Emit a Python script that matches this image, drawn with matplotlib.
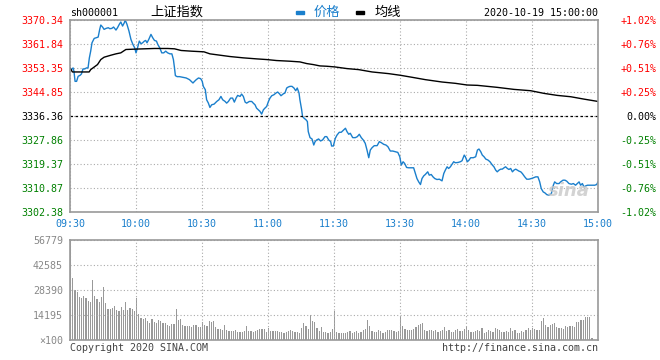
import numpy as np
import matplotlib
matplotlib.use("Agg")
import matplotlib.pyplot as plt
from matplotlib.patches import Rectangle

plt.rcParams['font.family'] = ['DejaVu Sans Mono', 'Noto Sans CJK SC']

# price ticks (left) and percent ticks (right)
price_ticks = [3302.38, 3310.87, 3319.37, 3327.86, 3336.36, 3344.85, 3353.35, 3361.84, 3370.34]
pct_labels = ['-1.02%', '-0.76%', '-0.51%', '-0.25%', '0.00%', '+0.25%', '+0.51%', '+0.76%', '+1.02%']
prev_close = 3336.36

time_labels = ['09:30', '10:00', '10:30', '11:00', '11:30', '13:30', '14:00', '14:30', '15:00']
time_ticks = [0, 30, 60, 90, 120, 150, 180, 210, 240]

# price line, minutes since 09:30 (trading minutes)
price_min = [0, 0.6, 1.4, 1.8, 2.3, 3, 3.7, 4.6, 5.2, 5.9, 6.7, 7.5, 8.2, 8.8, 9.4, 10, 11, 11.9,
             12.8, 13.5, 14, 14.8, 15.5, 16.4, 17.4, 18.1, 19, 19.8, 20.9, 21.6, 22.4, 23.1, 23.9,
             24.7, 25.1, 25.9, 26.8, 27.7, 28.6, 29.4, 30, 30.7, 31.5, 32.3, 33, 33.8, 34.4, 35,
             35.8, 36.8, 37.6, 38.4, 39.3, 39.9, 40.8, 41.7, 42.6, 43.5, 44.4, 45.4, 46.3, 47,
             47.5, 47.9, 48.7, 49.8, 51.3, 52.8, 54.3, 55.9, 56.6, 57.4, 58.4, 59.4, 60.1, 60.6,
             61.5, 62.1, 62.9, 63.6, 64.4, 65.5, 66.7, 67.7, 68.6, 69.4, 70.5, 71.2, 72, 73,
             73.9, 74.7, 75.5, 76.2, 77.3, 78, 78.8, 79.6, 80.3, 81.5, 82.6, 83.3, 84.1, 84.8,
             85.6, 86.4, 87.1, 87.9, 88.6, 89.4, 90.2, 90.9, 91.7, 92.7, 93.6, 94.4, 95.2, 95.9,
             97, 97.7, 98.5, 99.2, 100, 100.9, 101.8, 102.6, 103.3, 104.1, 104.5, 105.3, 105.7,
             106.4, 107.3, 107.9, 108.3, 109.1, 110, 110.8, 111.4, 112.1, 113, 113.9, 114.8,
             115.9, 116.7, 117.6, 118.5, 118.9, 119.7,
             120.6, 121.4, 122.4, 123.3, 124.4, 125.2, 125.9, 126.7, 127.4, 128.5, 129.7, 130.6,
             131.5, 132.4, 133.3, 134.2, 135, 135.8, 136.5, 137.3, 138.3, 139.6, 140.6, 141.5,
             142.6, 143.6, 144.5, 145.6, 146.7, 147.9, 149, 149.9, 150.6, 151.4, 152.1, 153,
             153.9, 155.2, 156.2, 157, 157.7, 158.5, 159.3, 160, 160.8, 161.5, 162.6, 163.3,
             164.2, 165, 165.8, 166.8, 167.9, 169.1, 169.9, 170.6, 171.4, 172.1, 172.9, 173.6,
             174.4, 175.2, 176.4, 177.4, 178.2, 179.2, 179.7, 180.6, 181.4, 182.1, 183.3, 184.4,
             185.2, 185.9, 186.7, 187.4, 188.2, 189, 190, 190.9, 192, 192.7, 193.5, 194.2, 195,
             195.8, 196.5, 197.3, 198, 198.8, 199.5, 200.3, 201.1, 201.8, 202.6, 203.3, 204.1,
             204.9, 205.6, 206.7, 207.6, 208.6, 209.7, 210.6, 211.7, 212.7, 213.5, 214.2, 215.1,
             215.9, 216.7, 217.7, 218.8, 219.7, 220.3, 221.2, 222.3, 223, 224.1, 225, 225.8,
             226.8, 227.9, 228.8, 229.8, 230.6, 231.4, 232.1, 232.9, 233.6, 234.4, 235.2, 236.4,
             237.4, 238.5, 239.4, 240]
price = [3353.02, 3352.78, 3353.38, 3352.19, 3348.63, 3348.63, 3350.41, 3350.77, 3351.24, 3353.02,
         3353.02, 3353.38, 3353.38, 3356.94, 3359.31, 3362.27, 3363.82, 3364.05, 3364.29, 3367.02,
         3368.56, 3367.85, 3367.02, 3367.37, 3367.61, 3367.26, 3367.37, 3367.85, 3366.78, 3367.61,
         3368.80, 3369.63, 3368.20, 3369.39, 3370.34, 3368.80, 3366.43, 3363.46, 3361.68, 3360.49,
         3358.71, 3360.49, 3362.87, 3361.92, 3362.27, 3362.87, 3363.10, 3362.27, 3363.46, 3365.24,
         3364.05, 3363.10, 3362.87, 3361.68, 3360.49, 3358.71, 3358.71, 3359.31, 3358.71, 3358.36,
         3358.36, 3356.34, 3353.38, 3350.65, 3350.29, 3350.29, 3350.06, 3349.82, 3349.23, 3348.04,
         3348.63, 3349.23, 3349.82, 3349.58, 3348.63, 3346.85,
         3345.67, 3342.11, 3340.92, 3339.38, 3340.33, 3340.57, 3341.51, 3342.11, 3343.29, 3342.11,
         3341.51, 3340.92, 3341.51, 3342.70, 3342.70, 3341.28, 3342.70, 3343.65, 3343.29, 3344.12,
         3343.29, 3341.28, 3340.92, 3341.51, 3341.51, 3340.92, 3340.33, 3339.14, 3338.55, 3337.96,
         3337.01, 3338.55, 3339.14, 3339.74, 3341.51, 3342.70, 3343.53, 3343.89, 3344.48, 3344.84,
         3344.24, 3343.53, 3344.24, 3344.48, 3346.26, 3346.62, 3346.85, 3346.85, 3346.26, 3345.31,
         3346.26, 3344.48, 3342.11, 3338.55, 3336.18, 3335.58, 3334.99, 3334.40, 3330.84, 3328.70,
         3328.23, 3326.09, 3327.28, 3327.87, 3328.23, 3327.52, 3327.87, 3329.06, 3329.06, 3327.87,
         3327.28, 3325.74, 3325.74,
         3328.47, 3329.65, 3330.60, 3330.60, 3331.43, 3332.02, 3330.84, 3329.89, 3330.25, 3328.70,
         3328.70, 3329.06, 3329.89, 3328.70, 3327.87, 3326.69, 3324.31, 3321.59, 3324.31, 3325.14,
         3325.86, 3325.86, 3327.28, 3326.92, 3326.33, 3326.09, 3325.50, 3323.96, 3323.96, 3323.72,
         3323.48, 3321.94, 3318.98, 3320.16, 3319.57, 3318.15, 3318.03, 3318.03, 3318.03, 3316.01,
         3314.23, 3313.04, 3312.10, 3314.23, 3315.18, 3315.65, 3316.60, 3315.42, 3315.65, 3314.82,
         3314.23, 3313.88, 3313.99, 3313.40, 3316.01, 3317.20, 3318.38, 3317.79, 3318.38, 3319.21,
         3320.16, 3319.81, 3319.92, 3320.16, 3320.52, 3322.53, 3321.94, 3320.16, 3320.76, 3321.59,
         3321.59, 3321.94, 3324.31, 3324.67, 3323.72, 3322.53, 3321.94, 3321.11, 3320.76, 3320.16,
         3318.98, 3318.38, 3317.20, 3316.60, 3317.20, 3317.55, 3317.55, 3318.03, 3318.38, 3317.79,
         3317.43, 3317.79, 3316.60, 3317.20, 3317.55, 3317.20, 3316.84, 3316.60, 3316.01, 3314.82,
         3313.99, 3313.99, 3314.23, 3314.47, 3314.82, 3314.82, 3313.04, 3310.67, 3309.49, 3309.13,
         3308.54, 3308.30, 3308.89, 3311.86, 3313.04, 3312.45, 3312.45, 3313.04, 3313.64, 3313.64,
         3313.28, 3312.45, 3312.21, 3312.45, 3311.86, 3312.45, 3313.04, 3311.86, 3312.45, 3311.27,
         3311.62, 3311.86, 3311.86, 3311.86, 3311.86, 3312.10, 3313.04]

# average line
avg_min = [0, 1.1, 8.7, 9.4, 12.5, 14, 15.5, 18.6, 20.9, 23.1, 25.4, 29.2, 33.8, 38.4, 44.4,
           47.5, 50.5, 55.1, 60.9, 63.6, 68.2, 72.7, 78.8, 84.8, 89.4, 93.9, 100, 104.5, 107.6,
           110.6, 113.6, 116.7, 120.4, 125.9, 131.2, 137.3, 144.8, 150.2, 155.5, 161.5, 169.1,
           175.2, 180.5, 185.2, 194.2, 201.8, 209.4, 215.5, 221.5, 227.6, 233.6, 240]
avg = [3353.38, 3351.95, 3351.95, 3352.78, 3354.56, 3356.34, 3357.17, 3357.88, 3358.36, 3358.71,
       3359.90, 3360.02, 3360.14, 3360.26, 3360.26, 3360.14, 3359.55, 3359.31, 3359.07, 3358.36,
       3357.88, 3357.41, 3356.94, 3356.58, 3356.34, 3355.99, 3355.75, 3355.51, 3354.92, 3354.56,
       3354.09, 3353.97, 3353.73, 3353.14, 3352.78, 3351.95, 3351.36, 3350.77, 3350.06, 3349.23,
       3348.39, 3347.92, 3347.33, 3347.21, 3346.50, 3345.78, 3345.31, 3344.36, 3343.65, 3343.18,
       3342.34, 3341.51]

# volume (x100), one bar per minute
vol_ticks = [0, 14195, 28390, 42585, 56779]
vol_labels = ['\u00d7100', '14195', '28390', '42585', '56779']
vol_am = [56779,
          35013, 28390, 27253, 24415, 24036, 24982, 23847, 22143, 21576, 34067, 24982, 23468, 21576,
          24415, 30093, 21008, 17791, 17412, 18169, 19305, 17033, 16466, 18737, 17033, 21576, 17223,
          18169, 17412, 16466, 23847,
          14762, 12491, 11923, 12491, 10788, 9652, 11923, 10220, 9652, 11356, 10788, 9652, 9463,
          8517, 7949, 9084, 9084, 17601, 11356, 11923, 8517, 7949, 7949, 7949, 7381, 8517, 8517,
          7381, 7381, 10220,
          8517, 7949, 10788, 10220, 10788, 7381, 6246, 6246, 5678, 8517, 5678, 5110, 5110, 5110,
          5678, 4542, 4542, 4542, 5110, 7949, 5110, 5110, 4542, 5110, 5678, 6246, 6246, 6246, 4542,
          6813,
          5110, 5110, 5110, 5110, 4542, 4542, 3974, 4542, 5110, 5678, 5110, 4542, 4542, 3974, 6813,
          9652, 7949, 6246, 14195, 10788, 10220, 6813, 5110, 7381, 4542, 4542, 3974, 4542, 6246]
vol_pm = [16466,
          4542, 3974, 3974, 3974, 3974, 4542, 5110, 3974, 4542, 5110, 3974, 4542, 5678, 6246, 11356,
          7949, 5110, 4542, 4542, 5678, 5110, 3974, 4542, 5678, 5678, 5678, 5110, 4542, 5110, 13627,
          7949, 6246, 5678, 5678, 5678, 6246, 7381, 8517, 9084, 9652, 5678, 5110, 5678, 5678, 5110,
          5678, 4542, 5110, 5678, 7381, 5110, 5678, 4542, 4542, 5678, 6246, 5110, 5110, 6246, 7949,
          5678, 4542, 4542, 5110, 5678, 5110, 6813, 3974, 4542, 5678, 5110, 4542, 6813, 6246, 5678,
          4542, 4542, 5110, 4542, 6813, 5110, 5678, 3974, 3974, 5110, 4542, 5678, 6813, 5678, 6813,
          6246, 5678, 5678, 10788, 12491, 8517, 7381, 8517, 9084, 9652, 7381, 6813, 6813, 6246, 7949,
          7381, 7949, 7949, 7381, 10220, 10220, 11356, 11356, 13059, 13059, 13059, 1136]

W, H = 660, 360
fig = plt.figure(figsize=(6.6, 3.6), dpi=100)
fig.patch.set_facecolor('white')


def px_box(left, top, right, bottom):
    return [left / W, 1 - bottom / H, (right - left) / W, (bottom - top) / H]


blue = '#1a7fcc'
red = '#ff0000'
green = '#008000'
gridc = '#aaaaaa'
border = '#999999'

ax = fig.add_axes(px_box(70, 20, 598, 212))
ax.plot(price_min, price, color=blue, lw=1.0)
ax.plot(avg_min, avg, color='black', lw=1.0)
ax.axhline(prev_close, color='black', lw=0.9, ls=(0, (2, 2)))
ax.set_xlim(0, 240)
ax.set_ylim(price_ticks[0], price_ticks[-1])
ax.set_yticks(price_ticks)
ax.set_yticklabels([f'{v:.2f}' for v in price_ticks], fontsize=7.2)
for lab, v in zip(ax.get_yticklabels(), price_ticks):
    lab.set_color(red if v > prev_close else ('black' if v == prev_close else green))
ax.set_xticks(time_ticks)
ax.set_xticklabels(time_labels, fontsize=7.2, color=blue)
ax.tick_params(length=0, pad=5)
ax.grid(True, color=gridc, lw=0.8, ls=(0, (1, 2)))
for s in ax.spines.values():
    s.set_color(border)
    s.set_linewidth(1.2)

ax2 = ax.twinx()
ax2.set_ylim(price_ticks[0], price_ticks[-1])
ax2.set_yticks(price_ticks)
ax2.set_yticklabels(pct_labels, fontsize=7.2, ha='right')
for lab, v in zip(ax2.get_yticklabels(), price_ticks):
    lab.set_color(red if v > prev_close else ('black' if v == prev_close else green))
ax2.tick_params(length=0, pad=42)
for s in ax2.spines.values():
    s.set_visible(False)

ax.text(0.985, 0.06, 'sina', transform=ax.transAxes, ha='right', va='bottom',
        fontsize=13, color='#c8c8c8', style='italic', fontweight='bold',
        family='DejaVu Sans', alpha=0.8)

# volume panel
axv = fig.add_axes(px_box(70, 240, 598, 340))
xa = np.arange(len(vol_am))
xp = 120 + np.arange(len(vol_pm))
axv.bar(xa, vol_am, width=0.5, color='#999999', align='edge')
axv.bar(xp, vol_pm, width=0.5, color='#999999', align='edge')
axv.set_xlim(0, 240)
axv.set_ylim(0, vol_ticks[-1])
axv.set_yticks(vol_ticks)
axv.set_yticklabels(vol_labels, fontsize=7.2, color='#888888')
axv.set_xticks(time_ticks)
axv.set_xticklabels([])
axv.tick_params(length=0, pad=5)
axv.grid(True, color=gridc, lw=0.8, ls=(0, (1, 2)))
for s in axv.spines.values():
    s.set_color(border)
    s.set_linewidth(1.2)


# header texts
def ftext(x, y, s, **kw):
    fig.text(x / W, 1 - y / H, s, **kw)


ftext(70, 13, 'sh000001', fontsize=7.2, va='center', ha='left')
ftext(150, 12, '上证指数', fontsize=9.5, va='center', ha='left', family='Noto Sans CJK SC')
fig.add_artist(Rectangle((296 / W, 1 - 14 / H), 8 / W, 3 / H, color=blue,
                         transform=fig.transFigure))
ftext(314, 12, '价格', fontsize=9.5, va='center', ha='left', color=blue, family='Noto Sans CJK SC')
fig.add_artist(Rectangle((356 / W, 1 - 14 / H), 8 / W, 3 / H, color='black',
                         transform=fig.transFigure))
ftext(375, 12, '均线', fontsize=9.5, va='center', ha='left', family='Noto Sans CJK SC')
ftext(598, 13, '2020-10-19 15:00:00', fontsize=7.2, va='center', ha='right')
ftext(70, 348, 'Copyright 2020 SINA.COM', fontsize=7.2, va='center', ha='left', color='#444444')
ftext(598, 348, 'http://finance.sina.com.cn', fontsize=7.2, va='center', ha='right', color='#444444')

fig.savefig('out.png', dpi=100)
